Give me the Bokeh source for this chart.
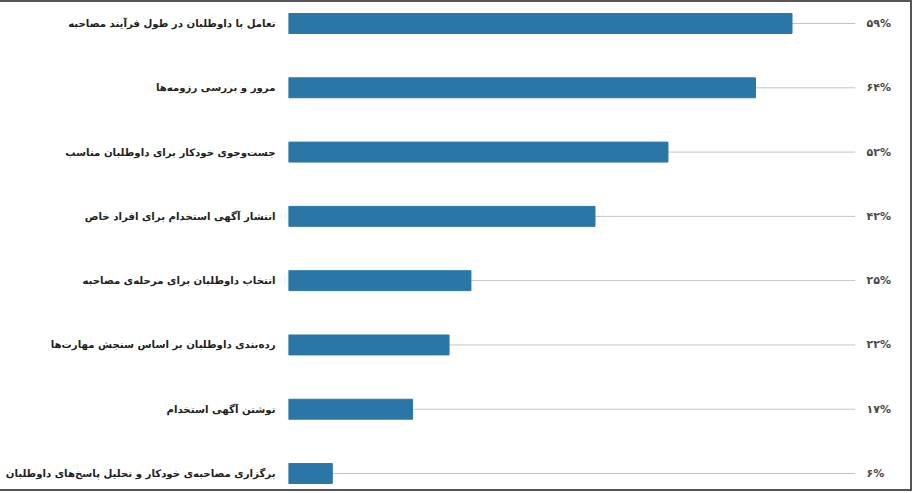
from bokeh.plotting import figure
from bokeh.models import Range1d, FixedTicker, LinearAxis
from bokeh.embed import file_html
from bokeh.resources import INLINE

categories = [
    "تعامل با داوطلبان در طول فرآیند مصاحبه",
    "مرور و بررسی رزومه‌ها",
    "جست‌وجوی خودکار برای داوطلبان مناسب",
    "انتشار آگهی استخدام برای افراد خاص",
    "انتخاب داوطلبان برای مرحله‌ی مصاحبه",
    "رده‌بندی داوطلبان بر اساس سنجش مهارت‌ها",
    "نوشتن آگهی استخدام",
    "برگزاری مصاحبه‌ی خودکار و تحلیل پاسخ‌های داوطلبان",
]
values = [69, 64, 52, 42, 25, 22, 17, 6]
value_labels = ["۵۹%", "۶۴%", "۵۲%", "۴۲%", "۲۵%", "۲۲%", "۱۷%", "۶%"]
track_max = 77.7

n = len(categories)
ypos = [n - 1 - i for i in range(n)]

p = figure(width=912, height=491, output_backend="svg", toolbar_location=None,
           x_range=Range1d(0, track_max), y_range=Range1d(-0.311, 7.327),
           min_border_left=288, min_border_right=57, min_border_top=0, min_border_bottom=0,
           styles={"border-top": "2px solid #555", "border-right": "2px solid #555",
                   "border-bottom": "2px solid #555"})
p.outline_line_color = None
p.xgrid.visible = False
p.ygrid.visible = False
p.xaxis.visible = False

p.segment(x0=[0] * n, x1=[track_max] * n, y0=ypos, y1=ypos, line_color="#c4c4c4", line_width=1)
p.hbar(y=ypos, left=0, right=values, height=0.31, fill_color="#2a77a7", line_color="#2a77a7")

ya = p.yaxis[0]
ya.ticker = FixedTicker(ticks=ypos)
ya.major_label_overrides = {y: c for y, c in zip(ypos, categories)}
ya.axis_line_color = None
ya.major_tick_line_color = None
ya.minor_tick_line_color = None
ya.major_label_standoff = 7
ya.major_label_text_font = "DejaVu Sans"
ya.major_label_text_font_style = "bold"
ya.major_label_text_font_size = "10.2px"
ya.major_label_text_color = "#1e1e1e"

ra = LinearAxis(ticker=FixedTicker(ticks=ypos),
                major_label_overrides={y: t for y, t in zip(ypos, value_labels)})
ra.axis_line_color = None
ra.major_tick_line_color = None
ra.minor_tick_line_color = None
ra.major_label_standoff = 5
ra.major_label_text_font = "DejaVu Sans"
ra.major_label_text_font_style = "bold"
ra.major_label_text_font_size = "11px"
ra.major_label_text_color = "#4a4a4a"
p.add_layout(ra, "right")

open("out.html", "w").write(file_html(p, INLINE))
